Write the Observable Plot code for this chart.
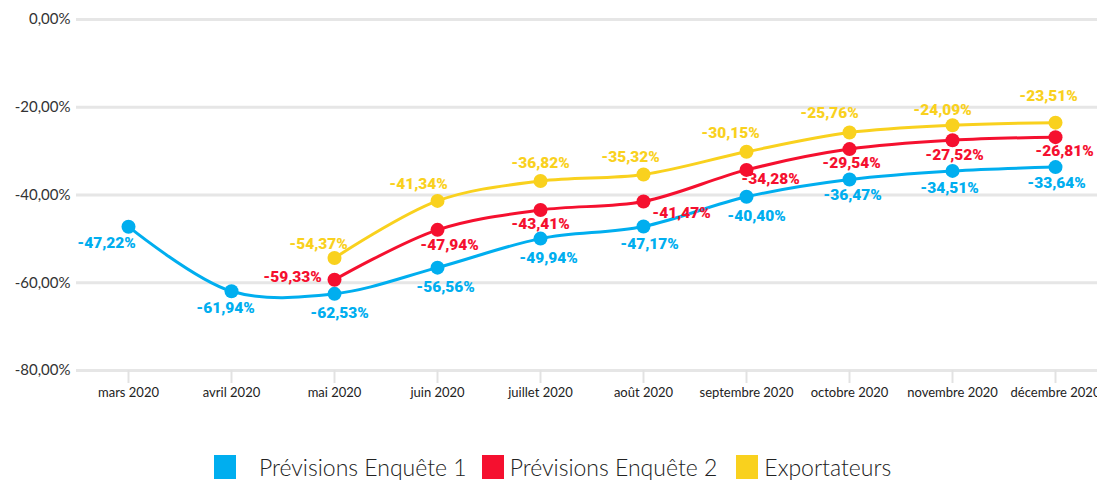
<!DOCTYPE html>
<html>
<head>
<meta charset="utf-8">
<script src="https://cdn.jsdelivr.net/npm/d3@7"></script>
<script src="https://cdn.jsdelivr.net/npm/@observablehq/plot@0.6"></script>
<style>
  html, body { margin: 0; padding: 0; background: #fff; overflow: hidden; }
  #chart svg { display: block; }
  .legend { display: flex; align-items: center; padding-left: 214px; margin-top: 4px; font-family: Lato, sans-serif; font-weight: 300; font-size: 23px; line-height: 26px; color: #222; }
  .legend .sw { width: 22px; height: 24px; display: inline-block; }
  .legend .item { display: flex; align-items: center; }
</style>
</head>
<body>
<div id="chart"></div>
<div class="legend" id="legend"></div>
<script>
const months = ["mars 2020", "avril 2020", "mai 2020", "juin 2020", "juillet 2020", "août 2020", "septembre 2020", "octobre 2020", "novembre 2020", "décembre 2020"];
const enquete1 = [-47.22, -61.94, -62.53, -56.56, -49.94, -47.17, -40.40, -36.47, -34.51, -33.64];
const enquete2Months = ["mai 2020", "juin 2020", "juillet 2020", "août 2020", "septembre 2020", "octobre 2020", "novembre 2020", "décembre 2020"];
const enquete2 = [-59.33, -47.94, -43.41, -41.47, -34.28, -29.54, -27.52, -26.81];
const exportateursMonths = enquete2Months;
const exportateurs = [-54.37, -41.34, -36.82, -35.32, -30.15, -25.76, -24.09, -23.51];
const yTicks = [0, -20, -40, -60, -80];
const seriesNames = ["Prévisions Enquête 1", "Prévisions Enquête 2", "Exportateurs"];
const seriesColors = ["#00AEEF", "#F5102F", "#F9D11E"];

// label offsets (style only)
const labelOffsets = {
  "Prévisions Enquête 1": [[-22, 16], [-6, 17], [5, 19], [8, 19], [8, 19], [6, 18], [10, 19], [3, 16], [-3, 17], [1, 16]],
  "Prévisions Enquête 2": [[-42, -3], [12, 15], [0, 14], [38, 12], [24, 9], [2, 14], [2, 15], [9, 14]],
  "Exportateurs": [[-16, -14], [-19, -17], [0, -18], [-13, -17], [-16, -19], [-20, -19], [-10, -15], [-7, -27]]
};

const fmt = v => v.toFixed(2).replace(".", ",") + "%";

const rows = [];
enquete1.forEach((v, i) => rows.push({series: seriesNames[0], month: months[i], value: v, i}));
enquete2.forEach((v, i) => rows.push({series: seriesNames[1], month: enquete2Months[i], value: v, i}));
exportateurs.forEach((v, i) => rows.push({series: seriesNames[2], month: exportateursMonths[i], value: v, i}));

const color = {domain: seriesNames, range: seriesColors};

const labelMarks = rows.map(r => {
  const [dx, dy] = labelOffsets[r.series][r.i];
  return Plot.text([r], {
    x: "month", y: "value", text: d => fmt(d.value), fill: "series",
    dx, dy, fontSize: 15.5, fontWeight: 900, fontFamily: "Roboto, sans-serif"
  });
});

const chart = Plot.plot({
  width: 1097,
  height: 450,
  marginLeft: 76,
  marginRight: 0,
  marginTop: 19,
  marginBottom: 80,
  style: {fontFamily: "Lato, sans-serif", color: "#333", background: "#fff"},
  x: {type: "point", domain: months, range: [127, 1056], padding: 0},
  y: {domain: [-80, 0]},
  color,
  marks: [
    Plot.ruleY(yTicks, {stroke: "#e6e6e6", strokeWidth: 3}),
    Plot.axisY({ticks: yTicks, tickFormat: fmt, tickSize: 0, tickPadding: 6, fontSize: 15, label: null, fill: "#333"}),
    Plot.axisX({tickSize: 13, tickPadding: 4, fontSize: 13, fontWeight: 400, label: null, stroke: "#e2e2e2", strokeWidth: 2, fill: "#222"}),
    Plot.line(rows, {x: "month", y: "value", z: "series", stroke: "series", strokeWidth: 3, curve: "catmull-rom"}),
    Plot.dot(rows, {x: "month", y: "value", fill: "series", r: 7}),
    ...labelMarks
  ]
});
document.getElementById("chart").append(chart);

const legend = document.getElementById("legend");
const gaps = [23, 6, 6];
const spacing = [15, 19, 0];
seriesNames.forEach((name, k) => {
  const item = document.createElement("div");
  item.className = "item";
  item.style.marginRight = spacing[k] + "px";
  const sw = document.createElement("span");
  sw.className = "sw";
  sw.style.background = seriesColors[k];
  sw.style.marginRight = gaps[k] + "px";
  const t = document.createElement("span");
  t.textContent = name;
  item.append(sw, t);
  legend.append(item);
});
</script>
</body>
</html>
